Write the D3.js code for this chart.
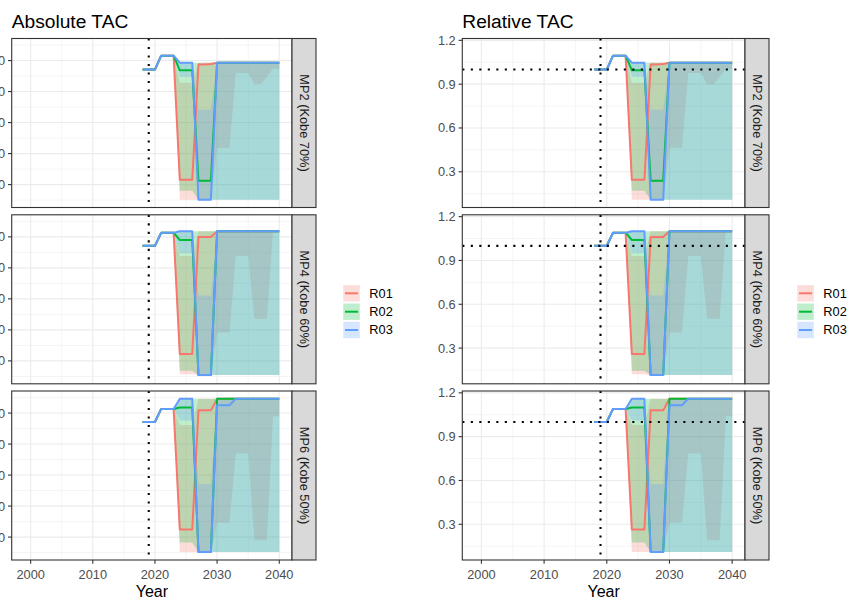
<!DOCTYPE html>
<html><head><meta charset="utf-8">
<script src="https://cdn.jsdelivr.net/npm/d3@7"></script>
<style>body{margin:0;background:#fff} svg{display:block} text{font-family:"Liberation Sans",Arial,Helvetica,sans-serif}</style>
</head><body>
<svg id="chart" width="849" height="600"></svg>
<script>
// ---------------- DATA ----------------
const years = [2018,2019,2020,2021,2022,2023,2024,2025,2026,2027,2028,2029,2030,2031,2032,2033,2034,2035,2036,2037,2038,2039,2040];
const facets = ["MP2 (Kobe 70%)", "MP4 (Kobe 60%)", "MP6 (Kobe 50%)"];
const runs = ["R01", "R02", "R03"];
const runColors = ["#F8766D", "#00BA38", "#619CFF"];
const refYear = 2019;
const refLevel = 1.0;
const refTAC = 4710;           // absolute TAC corresponding to relative TAC of 1
const xTicks = [2000, 2010, 2020, 2030, 2040];
const xMinor = [2005, 2015, 2025, 2035];
const absTicks = [1000, 2000, 3000, 4000, 5000];
const absMinor = [500, 1500, 2500, 3500, 4500, 5500];
const relTicks = [0.3, 0.6, 0.9, 1.2];
const relMinor = [0.15, 0.45, 0.75, 1.05];
const n = null;

// MP2 medians (relative TAC)
const mp2_R01 = [1.00,1.00,1.00,1.095,1.095,1.095,0.245,0.245,0.245,1.035,1.035,1.038,1.047,1.047,1.047,1.047,1.047,1.047,1.047,1.047,1.047,1.047,1.047];
const mp2_R02 = [1.00,1.00,1.00,1.095,1.095,1.095,0.995,0.995,0.995,0.238,0.238,0.238,1.047,1.047,1.047,1.047,1.047,1.047,1.047,1.047,1.047,1.047,1.047];
const mp2_R03 = [1.00,1.00,1.00,1.095,1.095,1.095,1.047,1.047,1.047,0.108,0.108,0.108,1.047,1.047,1.047,1.047,1.047,1.047,1.047,1.047,1.047,1.047,1.047];
// MP2 ribbons
const mp2_R01_lo = [n,n,n,n,n,1.095,0.108,0.108,0.108,0.108,0.108,0.108,0.464,0.464,0.464,0.977,0.977,0.977,0.90,0.90,0.95,1.005,1.005];
const mp2_R01_hi = [n,n,n,n,n,1.095,0.91,0.91,0.91,1.047,1.047,1.047,1.047,1.047,1.047,1.047,1.047,1.047,1.047,1.047,1.047,1.047,1.047];
const mp2_R02_lo = [n,n,n,n,n,1.095,0.17,0.17,0.17,0.108,0.108,0.108,0.108,0.108,0.108,0.108,0.108,0.108,0.108,0.108,0.108,0.108,0.108];
const mp2_R02_hi = [n,n,n,n,n,1.095,1.047,1.047,1.047,1.047,1.047,1.047,1.047,1.047,1.047,1.047,1.047,1.047,1.047,1.047,1.047,1.047,1.047];
const mp2_R03_lo = [n,n,n,n,n,1.095,0.95,0.95,0.95,0.108,0.108,0.108,0.108,0.108,0.108,0.108,0.108,0.108,0.108,0.108,0.108,0.108,0.108];
const mp2_R03_hi = [n,n,n,n,n,1.095,1.047,1.047,1.047,0.724,0.724,0.724,1.047,1.047,1.047,1.047,1.047,1.047,1.047,1.047,1.047,1.047,1.047];

// MP4 medians
const mp4_R01 = [1.00,1.00,1.00,1.09,1.09,1.09,0.26,0.26,0.26,1.06,1.06,1.06,1.10,1.10,1.10,1.10,1.10,1.10,1.10,1.10,1.10,1.10,1.10];
const mp4_R02 = [1.00,1.00,1.00,1.09,1.09,1.09,1.04,1.04,1.04,0.115,0.115,0.115,1.10,1.10,1.10,1.10,1.10,1.10,1.10,1.10,1.10,1.10,1.10];
const mp4_R03 = [1.00,1.00,1.00,1.09,1.09,1.09,1.10,1.10,1.10,0.115,0.115,0.115,1.10,1.10,1.10,1.10,1.10,1.10,1.10,1.10,1.10,1.10,1.10];
// MP4 ribbons
const mp4_R01_lo = [n,n,n,n,n,1.09,0.12,0.12,0.12,0.115,0.115,0.115,0.406,0.406,0.406,0.93,0.93,0.93,0.50,0.50,0.50,1.10,1.10];
const mp4_R01_hi = [n,n,n,n,n,1.09,0.93,0.93,0.93,1.10,1.10,1.10,1.10,1.10,1.10,1.10,1.10,1.10,1.10,1.10,1.10,1.10,1.10];
const mp4_R02_lo = [n,n,n,n,n,1.09,0.145,0.145,0.145,0.115,0.115,0.115,0.115,0.115,0.115,0.115,0.115,0.115,0.115,0.115,0.115,0.115,0.115];
const mp4_R02_hi = [n,n,n,n,n,1.09,1.10,1.10,1.10,1.10,1.10,1.10,1.10,1.10,1.10,1.10,1.10,1.10,1.10,1.10,1.10,1.10,1.10];
const mp4_R03_lo = [n,n,n,n,n,1.09,0.95,0.95,0.95,0.115,0.115,0.115,0.115,0.115,0.115,0.115,0.115,0.115,0.115,0.115,0.115,0.115,0.115];
const mp4_R03_hi = [n,n,n,n,n,1.09,1.10,1.10,1.10,0.66,0.66,0.66,1.10,1.10,1.10,1.10,1.10,1.10,1.10,1.10,1.10,1.10,1.10];

// MP6 medians
const mp6_R01 = [1.00,1.00,1.00,1.09,1.09,1.09,0.265,0.265,0.265,1.08,1.08,1.08,1.16,1.16,1.16,1.16,1.16,1.16,1.16,1.16,1.16,1.16,1.16];
const mp6_R02 = [1.00,1.00,1.00,1.09,1.09,1.09,1.10,1.10,1.10,0.11,0.11,0.11,1.16,1.16,1.16,1.16,1.16,1.16,1.16,1.16,1.16,1.16,1.16];
const mp6_R03 = [1.00,1.00,1.00,1.09,1.09,1.09,1.16,1.16,1.16,0.11,0.11,0.11,1.115,1.115,1.115,1.16,1.16,1.16,1.16,1.16,1.16,1.16,1.16];
// MP6 ribbons
const mp6_R01_lo = [n,n,n,n,n,1.09,0.11,0.11,0.11,0.11,0.11,0.11,0.31,0.31,0.31,0.785,0.785,0.785,0.19,0.19,0.19,1.04,1.04];
const mp6_R01_hi = [n,n,n,n,n,1.09,0.98,0.98,0.98,1.16,1.16,1.16,1.16,1.16,1.16,1.16,1.16,1.16,1.16,1.16,1.16,1.16,1.16];
const mp6_R02_lo = [n,n,n,n,n,1.09,0.175,0.175,0.175,0.11,0.11,0.11,0.11,0.11,0.11,0.11,0.11,0.11,0.11,0.11,0.11,0.11,0.11];
const mp6_R02_hi = [n,n,n,n,n,1.09,1.16,1.16,1.16,1.16,1.16,1.16,1.16,1.16,1.16,1.16,1.16,1.16,1.16,1.16,1.16,1.16,1.16];
const mp6_R03_lo = [n,n,n,n,n,1.09,1.01,1.01,1.01,0.11,0.11,0.11,0.11,0.11,0.11,0.11,0.11,0.11,0.11,0.11,0.11,0.11,0.11];
const mp6_R03_hi = [n,n,n,n,n,1.09,1.16,1.16,1.16,0.576,0.576,0.576,1.16,1.16,1.16,1.16,1.16,1.16,1.16,1.16,1.16,1.16,1.16];

// ---------------- ASSEMBLY ----------------
const facetData = [
  {lines:[mp2_R01,mp2_R02,mp2_R03], lo:[mp2_R01_lo,mp2_R02_lo,mp2_R03_lo], hi:[mp2_R01_hi,mp2_R02_hi,mp2_R03_hi]},
  {lines:[mp4_R01,mp4_R02,mp4_R03], lo:[mp4_R01_lo,mp4_R02_lo,mp4_R03_lo], hi:[mp4_R01_hi,mp4_R02_hi,mp4_R03_hi]},
  {lines:[mp6_R01,mp6_R02,mp6_R03], lo:[mp6_R01_lo,mp6_R02_lo,mp6_R03_lo], hi:[mp6_R01_hi,mp6_R02_hi,mp6_R03_hi]}
];

const allVals = [];
facetData.forEach(f => { [...f.lines, ...f.lo, ...f.hi].forEach(a => a.forEach(v => { if (v != null) allVals.push(v); })); });
const [vmin, vmax] = d3.extent(allVals);
const pad = (vmax - vmin) * 0.05;
const relDomain = [vmin - pad, vmax + pad];
const xDomain = [1996.95, 2042.05];

const svg = d3.select("#chart");
svg.append("rect").attr("width", 849).attr("height", 600).attr("fill", "#fff");

const FS_SMALL = 12.8, FS_TITLE = 19.2, FS_AXIS = 16;
const panelRows = [[38.5, 207.5], [214.8, 383.8], [391, 560]];
const stripW = 24;
const plots = [
  {title:"Absolute TAC", x0:11.7, x1:292, mult:refTAC, ticks:absTicks, minor:absMinor, fmt:d3.format("d"), hline:false, legendX:343.3},
  {title:"Relative TAC", x0:462.3, x1:745, mult:1, ticks:relTicks, minor:relMinor, fmt:d3.format(".1f"), hline:true, legendX:797.3}
];

const fillAlpha = 0.25;
let clipId = 0;

plots.forEach(p => {
  const x = d3.scaleLinear().domain(xDomain).range([p.x0, p.x1]);
  svg.append("text").attr("x", p.x0).attr("y", 28).attr("font-size", FS_TITLE).attr("fill", "#000").text(p.title);

  panelRows.forEach((row, fi) => {
    const y = d3.scaleLinear().domain([relDomain[0] * p.mult, relDomain[1] * p.mult]).range([row[1], row[0]]);
    const g = svg.append("g");
    g.append("rect").attr("x", p.x0).attr("y", row[0]).attr("width", p.x1 - p.x0).attr("height", row[1] - row[0]).attr("fill", "#fff");
    const cid = "clip" + (clipId++);
    g.append("clipPath").attr("id", cid).append("rect").attr("x", p.x0).attr("y", row[0]).attr("width", p.x1 - p.x0).attr("height", row[1] - row[0]);
    const inner = g.append("g").attr("clip-path", `url(#${cid})`);
    p.minor.forEach(v => inner.append("line").attr("x1", p.x0).attr("x2", p.x1).attr("y1", y(v)).attr("y2", y(v)).attr("stroke", "#ebebeb").attr("stroke-width", 0.55));
    xMinor.forEach(v => inner.append("line").attr("x1", x(v)).attr("x2", x(v)).attr("y1", row[0]).attr("y2", row[1]).attr("stroke", "#ebebeb").attr("stroke-width", 0.55));
    p.ticks.forEach(v => inner.append("line").attr("x1", p.x0).attr("x2", p.x1).attr("y1", y(v)).attr("y2", y(v)).attr("stroke", "#ebebeb").attr("stroke-width", 1.1));
    xTicks.forEach(v => inner.append("line").attr("x1", x(v)).attr("x2", x(v)).attr("y1", row[0]).attr("y2", row[1]).attr("stroke", "#ebebeb").attr("stroke-width", 1.1));

    const fd = facetData[fi];
    runs.forEach((r, ri) => {
      const pts = years.map((yr, i) => ({yr, lo: fd.lo[ri][i], hi: fd.hi[ri][i]}));
      const area = d3.area().defined(d => d.lo != null && d.hi != null)
        .x(d => x(d.yr)).y0(d => y(d.lo * p.mult)).y1(d => y(d.hi * p.mult));
      inner.append("path").attr("d", area(pts)).attr("fill", runColors[ri]).attr("fill-opacity", fillAlpha).attr("stroke", "none");
    });
    runs.forEach((r, ri) => {
      const pts = years.map((yr, i) => ({yr, v: fd.lines[ri][i]}));
      const line = d3.line().x(d => x(d.yr)).y(d => y(d.v * p.mult));
      inner.append("path").attr("d", line(pts)).attr("fill", "none").attr("stroke", runColors[ri]).attr("stroke-width", 2).attr("stroke-linejoin", "round");
    });
    inner.append("line").attr("x1", x(refYear)).attr("x2", x(refYear)).attr("y1", row[0]).attr("y2", row[1])
      .attr("stroke", "#000").attr("stroke-width", 2.1).attr("stroke-dasharray", "2.1,6.4");
    if (p.hline) {
      inner.append("line").attr("x1", p.x0).attr("x2", p.x1).attr("y1", y(refLevel)).attr("y2", y(refLevel))
        .attr("stroke", "#000").attr("stroke-width", 2.1).attr("stroke-dasharray", "2.1,6.4");
    }
    g.append("rect").attr("x", p.x0).attr("y", row[0]).attr("width", p.x1 - p.x0).attr("height", row[1] - row[0])
      .attr("fill", "none").attr("stroke", "#333333").attr("stroke-width", 1.1);
    p.ticks.forEach(v => {
      g.append("line").attr("x1", p.x0 - 3.67).attr("x2", p.x0).attr("y1", y(v)).attr("y2", y(v)).attr("stroke", "#333333").attr("stroke-width", 1.1);
      g.append("text").attr("x", p.x0 - 6.6).attr("y", y(v)).attr("dy", "0.35em").attr("text-anchor", "end")
        .attr("font-size", FS_SMALL).attr("fill", "#4d4d4d").text(p.fmt(v));
    });
    g.append("rect").attr("x", p.x1).attr("y", row[0]).attr("width", stripW).attr("height", row[1] - row[0])
      .attr("fill", "#d9d9d9").attr("stroke", "#333333").attr("stroke-width", 1.1);
    const cx = p.x1 + stripW / 2, cy = (row[0] + row[1]) / 2;
    g.append("text").attr("transform", `translate(${cx},${cy}) rotate(90)`).attr("text-anchor", "middle").attr("dy", "0.35em")
      .attr("font-size", FS_SMALL).attr("fill", "#1a1a1a").text(facets[fi]);

    if (fi === panelRows.length - 1) {
      xTicks.forEach(v => {
        g.append("line").attr("x1", x(v)).attr("x2", x(v)).attr("y1", row[1]).attr("y2", row[1] + 3.67).attr("stroke", "#333333").attr("stroke-width", 1.1);
        g.append("text").attr("x", x(v)).attr("y", 579).attr("text-anchor", "middle").attr("font-size", FS_SMALL).attr("fill", "#4d4d4d").text(v);
      });
      g.append("text").attr("x", (p.x0 + p.x1) / 2).attr("y", 596.5).attr("text-anchor", "middle").attr("font-size", FS_AXIS).attr("fill", "#000").text("Year");
    }
  });

  const keyCenters = [293.3, 311.7, 330];
  runs.forEach((r, ri) => {
    const cy = keyCenters[ri];
    svg.append("rect").attr("x", p.legendX).attr("y", cy - 8.2).attr("width", 16.5).attr("height", 16.4).attr("fill", runColors[ri]).attr("fill-opacity", fillAlpha);
    svg.append("line").attr("x1", p.legendX + 1.7).attr("x2", p.legendX + 14.8).attr("y1", cy).attr("y2", cy).attr("stroke", runColors[ri]).attr("stroke-width", 2);
    svg.append("text").attr("x", p.legendX + 26).attr("y", cy).attr("dy", "0.35em").attr("font-size", FS_SMALL).attr("fill", "#000").text(r);
  });
});
</script>
</body></html>
